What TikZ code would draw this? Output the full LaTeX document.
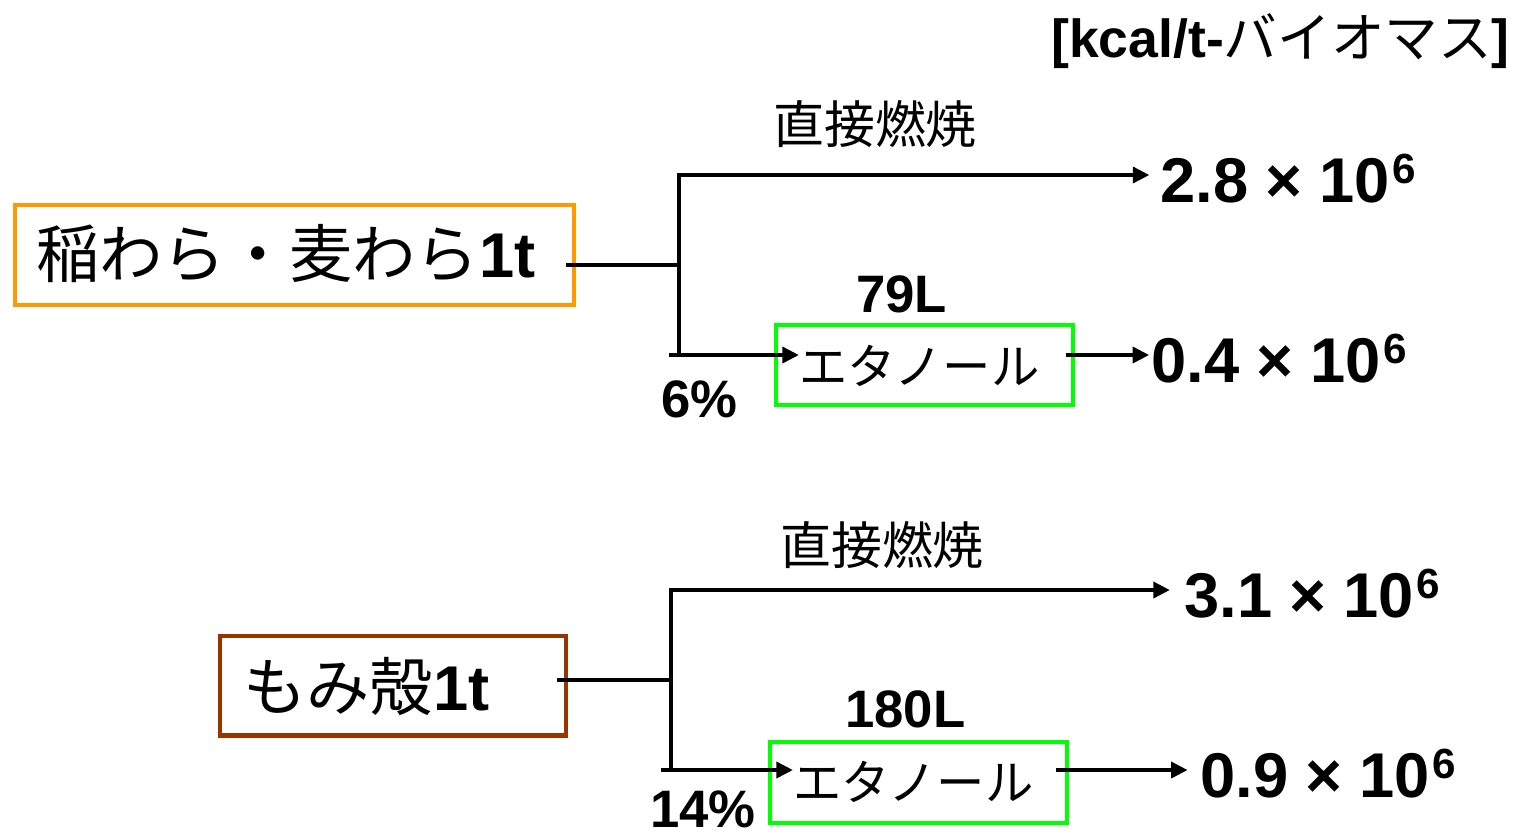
\documentclass[tikz,border=0pt]{standalone}
\usepackage{fontspec}
\setmainfont{Liberation Sans}
\newfontfamily\jp{Noto Sans CJK JP}
\usetikzlibrary{arrows.meta}
\definecolor{boxorange}{HTML}{FF9900}
\definecolor{boxbrown}{HTML}{993300}
\definecolor{boxgreen}{HTML}{00FF00}
\newcommand{\valtext}[2]{#1\hspace{0.27em}×\hspace{0.27em}#2\kern1.5pt\raisebox{10.5pt}{\fontsize{24}{24}\selectfont 6}}
\begin{document}
\begin{tikzpicture}[x=0.02cm,y=-0.02cm,
  conn/.style={line width=2.5pt},
  arr/.style={conn,-{Triangle[length=9.5pt,width=9pt]}},
  srcbox/.style={draw, line width=2.3pt, inner sep=0pt, minimum height=2.0cm},
  ethbox/.style={draw=boxgreen, line width=2.3pt, inner sep=0pt, minimum width=5.94cm},
  srctext/.style={font=\jp\fontsize{36}{36}\selectfont, inner sep=0pt},
  ethtext/.style={font=\jp\fontsize{27.5}{27.5}\selectfont, inner sep=0pt},
  jlabel/.style={font=\jp\fontsize{29}{29}\selectfont, inner sep=0pt},
  blabel/.style={font=\bfseries\fontsize{30}{30}\selectfont, inner sep=0pt, anchor=base west},
  val/.style={font=\bfseries\fontsize{36}{36}\selectfont, inner sep=0pt, anchor=base west}]
\useasboundingbox (0,0) rectangle (1513,836);

% units
\node[anchor=base east, inner sep=0pt, font=\fontsize{30.5}{30.5}\selectfont] (unit) at (1510,57) {\textbf{[kcal/t-}{\jp バイオマス}\textbf{]}};

% ---------- upper ----------
\node[srcbox, draw=boxorange, minimum width=11.18cm] (src1) at (294.5,255) {};
\node[srctext, anchor=west] (t1) at (36,254) {稲わら・麦わら{\rmfamily\bfseries 1t}};
\node[ethbox, minimum height=1.6cm] (eb1) at (924.5,365) {};
\node[ethtext, anchor=west] (e1) at (799,366) {エタノール};
\node[jlabel] (c1) at (875,124) {直接燃焼};
\node[blabel] (l1) at (856,312) {79L};
\node[blabel] (p1) at (661,417) {6\%};
\node[val] (v1) at (1160,202) {\valtext{2.8}{10}};
\node[val] (w1) at (1151,382) {\valtext{0.4}{10}};

\coordinate (s1) at (566,265);
\coordinate (j1) at (679,265);
\coordinate (u1) at (679,175);
\coordinate (d1) at (679,355);
\coordinate (d1s) at (669,355);
\coordinate (o1) at (1066,355);
\draw[conn] (s1) -- (j1);
\draw[arr, shorten >=6pt] (d1) -- (u1) -- (u1 -| v1.west);
\draw[arr] (d1s) -- (d1s -| e1.west);
\draw[arr, shorten >=1pt] (o1) -- (o1 -| w1.west);

% ---------- lower ----------
\node[srcbox, draw=boxbrown, minimum width=6.94cm] (src2) at (393,685.5) {};
\node[srctext, anchor=west] (t2) at (243,686) {もみ殻{\rmfamily\bfseries 1t}};
\node[ethbox, minimum height=1.62cm] (eb2) at (918.5,782.5) {};
\node[ethtext, anchor=west] (e2) at (793,782) {エタノール};
\node[jlabel] (c2) at (882,545) {直接燃焼};
\node[blabel] (l2) at (845,727) {180L};
\node[blabel] (p2) at (650,827) {14\%};
\node[val] (v2) at (1184,617) {\valtext{3.1}{10}};
\node[val] (w2) at (1200,797) {\valtext{0.9}{10}};

\coordinate (s2) at (557,680);
\coordinate (j2) at (671,680);
\coordinate (u2) at (671,590);
\coordinate (d2) at (671,770);
\coordinate (d2s) at (661,770);
\coordinate (o2) at (1056,770);
\draw[conn] (s2) -- (j2);
\draw[arr, shorten >=8pt] (d2) -- (u2) -- (u2 -| v2.west);
\draw[arr] (d2s) -- (d2s -| e2.west);
\draw[arr, shorten >=7pt] (o2) -- (o2 -| w2.west);
\end{tikzpicture}
\end{document}
